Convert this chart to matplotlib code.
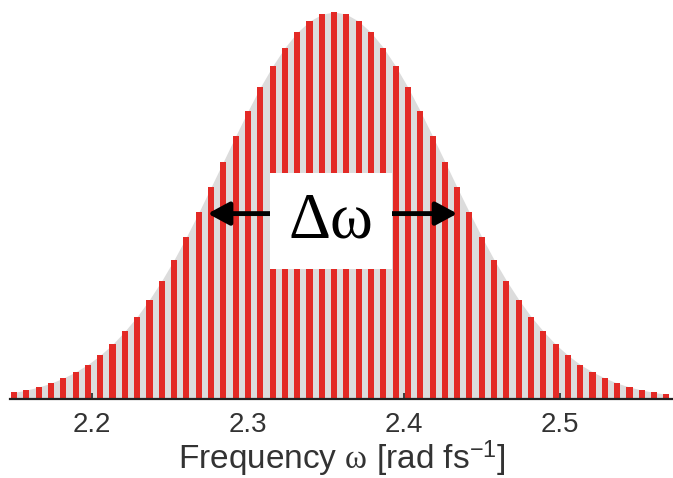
import matplotlib.pyplot as plt
from matplotlib.patches import Rectangle, FancyArrowPatch

plt.rcParams['font.family'] = ['Liberation Sans', 'DejaVu Sans']
plt.rcParams['mathtext.fontset'] = 'custom'
plt.rcParams['mathtext.it'] = 'Liberation Serif'
plt.rcParams['mathtext.rm'] = 'Liberation Sans'

# comb lines (rad/fs) and relative intensity
freqs = [2.1500, 2.1579, 2.1658, 2.1737, 2.1816, 2.1895, 2.1973, 2.2052, 2.2131,
         2.2210, 2.2289, 2.2368, 2.2447, 2.2526, 2.2605, 2.2684, 2.2762, 2.2841,
         2.2920, 2.2999, 2.3078, 2.3157, 2.3236, 2.3315, 2.3394, 2.3473, 2.3551,
         2.3630, 2.3709, 2.3788, 2.3867, 2.3946, 2.4025, 2.4104, 2.4183, 2.4262,
         2.4340, 2.4419, 2.4498, 2.4577, 2.4656, 2.4735, 2.4814, 2.4893, 2.4972,
         2.5051, 2.5129, 2.5208, 2.5287, 2.5366, 2.5445, 2.5524, 2.5603, 2.5682]
heights = [0.017, 0.023, 0.031, 0.041, 0.054, 0.070, 0.089, 0.113, 0.141,
           0.175, 0.213, 0.257, 0.306, 0.360, 0.419, 0.482, 0.547, 0.613,
           0.679, 0.744, 0.805, 0.860, 0.908, 0.947, 0.976, 0.994, 1.000,
           0.994, 0.976, 0.947, 0.908, 0.860, 0.805, 0.744, 0.679, 0.613,
           0.547, 0.482, 0.419, 0.360, 0.306, 0.257, 0.213, 0.175, 0.141,
           0.113, 0.089, 0.070, 0.054, 0.041, 0.031, 0.023, 0.017, 0.012]
ticks = [2.2, 2.3, 2.4, 2.5]
tick_labels = ['2.2', '2.3', '2.4', '2.5']

# half maximum width (arrow ends)
fwhm_lo, fwhm_hi = 2.2724, 2.4359
half_level = 0.479

fig = plt.figure(figsize=(6.73, 4.78), dpi=100)
ax = fig.add_axes([10 / 673, 79 / 478, 663 / 673, 389 / 478])

# grey envelope behind the comb
ax.fill_between(freqs, heights, 0, color='#dcdcdc', lw=0, zorder=1)
ax.bar(freqs, heights, width=0.0039, color='#e32a26', lw=0, zorder=2)

# double arrow + white label box
arr = FancyArrowPatch((fwhm_lo, half_level), (fwhm_hi, half_level),
                      arrowstyle='<|-|>,head_length=0.65,head_width=0.35',
                      mutation_scale=20, lw=3.5, color='black', zorder=3)
ax.add_patch(arr)
ax.add_patch(Rectangle((2.314, 0.337), 0.078, 0.248, facecolor='white',
                       edgecolor='none', zorder=4))
ax.text(2.353, 0.458, '\u0394\u03c9', family='Liberation Serif', fontsize=47,
        ha='center', va='center', zorder=5)

ax.set_xlim(2.1474, 2.5724)
ax.set_ylim(0, 1.005)
for s in ['left', 'right', 'top']:
    ax.spines[s].set_visible(False)
ax.spines['bottom'].set_linewidth(1.6)
ax.spines['bottom'].set_color('#222222')
ax.spines['bottom'].set_zorder(6)
ax.set_yticks([])
ax.set_xticks(ticks)
ax.set_xticklabels(tick_labels)
ax.tick_params(axis='x', direction='in', length=4, width=1.2, color='#222222',
               labelsize=20, labelcolor='#333333', pad=9)
ax.set_xlabel(r'Frequency $\omega$ [rad fs$^{-1}$]', fontsize=24, color='#333333',
              labelpad=1)

fig.savefig('out.png', dpi=100)
